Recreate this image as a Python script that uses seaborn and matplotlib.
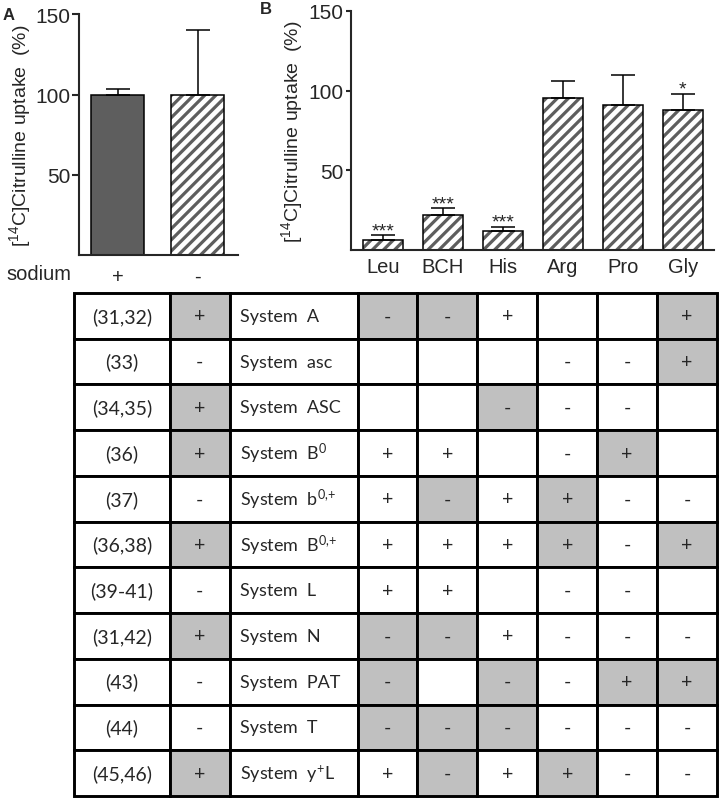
import matplotlib
matplotlib.use('Agg')
import matplotlib.pyplot as plt
import pandas as pd
import seaborn as sns

# Panel A: uptake with / without sodium
sodium = ['+', '-']
sodium_uptake = [100, 99.5]
sodium_err = [3.5, 40.5]

# Panel B: uptake in presence of amino acids
inhibitors = ['Leu', 'BCH', 'His', 'Arg', 'Pro', 'Gly']
inhib_uptake = [6.6, 22.1, 11.9, 95.4, 90.7, 87.6]
inhib_err = [3.0, 4.4, 2.9, 10.4, 19.1, 10.5]
inhib_sig = ['***', '***', '***', '', '', '*']

# Table: transport systems
refs = ['(31,32)', '(33)', '(34,35)', '(36)', '(37)', '(36,38)',
        '(39-41)', '(31,42)', '(43)', '(44)', '(45,46)']
na_dependent = ['+', '-', '+', '+', '-', '+', '-', '+', '-', '-', '+']
systems = ['System  A', 'System  asc', 'System  ASC',
           r'System  B$\mathregular{^{0}}$',
           r'System  b$\mathregular{^{0{,}{+}}}$',
           r'System  B$\mathregular{^{0{,}{+}}}$',
           'System  L', 'System  N', 'System  PAT', 'System  T',
           r'System  y$\mathregular{^{+}}$L']
# Leu, BCH, His, Arg, Pro, Gly
substrates = [
    ['-', '-', '+', '', '', '+'],
    ['', '', '', '-', '-', '+'],
    ['', '', '-', '-', '-', ''],
    ['+', '+', '', '-', '+', ''],
    ['+', '-', '+', '+', '-', '-'],
    ['+', '+', '+', '+', '-', '+'],
    ['+', '+', '', '-', '-', ''],
    ['-', '-', '+', '-', '-', '-'],
    ['-', '', '-', '-', '+', '+'],
    ['-', '-', '-', '-', '-', '-'],
    ['+', '-', '+', '+', '-', '-'],
]
# what the uptake data show: sodium, Leu, BCH, His, Arg, Pro, Gly
observed = ['-', '+', '+', '+', '-', '-', '-']

dark = '#5e5e5e'
shade = '#c0c0c0'

sns.set_style('ticks')
plt.rcParams['font.family'] = ['Liberation Sans', 'DejaVu Sans']
plt.rcParams['hatch.linewidth'] = 2.3
plt.rcParams['axes.linewidth'] = 1.5

fig = plt.figure(figsize=(7.22, 8.03), dpi=100)
axA = fig.add_axes([0.1094, 0.6806, 0.2202, 0.3007])
axB = fig.add_axes([0.4861, 0.6870, 0.5028, 0.2984])
axT = fig.add_axes([0.1025, 0.0075, 0.8906, 0.6264])

ylab = r'[$\mathregular{^{14}}$C]Citrulline uptake  (%)'


def hatched_bars(ax, df, x, y, colors, width, err):
    sns.barplot(data=df, x=x, y=y, hue=x, palette=colors, legend=False,
                errorbar=None, width=width, saturation=1, ax=ax,
                edgecolor=dark, linewidth=0)
    for p, c in zip(ax.patches, colors):
        if c == 'white':
            p.set_hatch('///')
    sns.barplot(data=df, x=x, y=y, fill=False, color='black', errorbar=None,
                width=width, linewidth=1.1, ax=ax)
    n = len(df)
    ax.errorbar(range(n), df[y], yerr=[[0] * n, err], fmt='none',
                ecolor='black', elinewidth=1.1, capsize=8.5, capthick=1.1)


def style_axis(ax, ticklen, pad):
    ax.set_ylim(0, 150)
    ax.set_yticks([50, 100, 150])
    ax.tick_params(axis='y', labelsize=15, length=ticklen, width=1.5, pad=pad)
    ax.set_xlabel('')
    ax.set_ylabel(ylab, fontsize=14, labelpad=2)
    sns.despine(ax=ax)


# Panel A
dfA = pd.DataFrame({'sodium': sodium, 'uptake': sodium_uptake})
hatched_bars(axA, dfA, 'sodium', 'uptake', [dark, 'white'], 0.66, sodium_err)
style_axis(axA, 5, 1)
axA.set_xlim(-0.48, 1.5)
axA.tick_params(axis='x', labelsize=14.5, length=0, pad=8)
axA.text(-0.455, -0.075, 'sodium', transform=axA.transAxes, fontsize=14.5,
         ha='left', va='center')
axA.text(-0.48, 1.0, 'A', transform=axA.transAxes, fontsize=12,
         fontweight='bold', ha='left', va='center')

# Panel B
dfB = pd.DataFrame({'inhibitor': inhibitors, 'uptake': inhib_uptake})
hatched_bars(axB, dfB, 'inhibitor', 'uptake', ['white'] * 6, 0.667, inhib_err)
style_axis(axB, 3.5, 2)
axB.set_xlim(-0.53, 5.52)
axB.tick_params(axis='x', labelsize=14.5, length=0, pad=5)
for i, (v, e, s) in enumerate(zip(inhib_uptake, inhib_err, inhib_sig)):
    if s:
        axB.annotate(s, xy=(i, v + e), xytext=(0, 0), textcoords='offset points',
                     ha='center', va='baseline', fontsize=14)
axB.text(-0.25, 1.01, 'B', transform=axB.transAxes, fontsize=12,
         fontweight='bold', ha='left', va='center')

# Table
cell_text = []
cell_colours = []
for r, na, name, marks in zip(refs, na_dependent, systems, substrates):
    row = [na] + marks
    cell_text.append([r, na, name] + marks)
    cols = [shade if (m and m != o) else 'white' for m, o in zip(row, observed)]
    cell_colours.append(['white', cols[0], 'white'] + cols[1:])

col_widths = [96, 60, 128, 60, 60, 60, 60, 60, 60]
col_widths = [w / sum(col_widths) for w in col_widths]

axT.axis('off')
tab = axT.table(cellText=cell_text, cellColours=cell_colours,
                colWidths=col_widths, cellLoc='center', bbox=[0, 0, 1, 1])
tab.auto_set_font_size(False)
tab.set_fontsize(14)
for (r, c), cell in tab.get_celld().items():
    cell.set_linewidth(2.1)
    cell.set_edgecolor('black')
    cell.get_text().set_fontfamily(['Lato', 'DejaVu Sans'])
    if c == 2:
        cell.get_text().set_fontsize(13)
        cell.get_text().set_horizontalalignment('left')
        cell.PAD = 0.078

fig.savefig('out.png', dpi=100)
